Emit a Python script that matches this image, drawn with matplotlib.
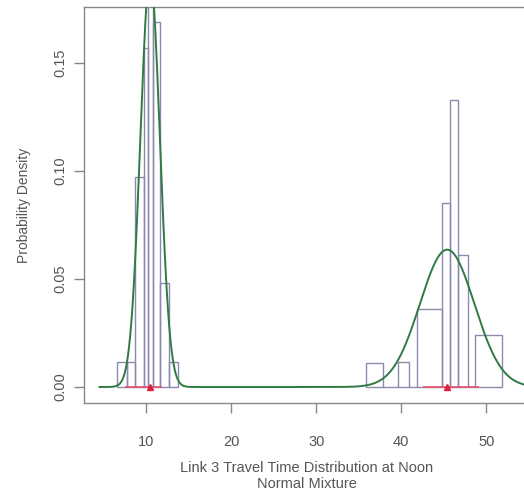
import numpy as np
import matplotlib
matplotlib.use("Agg")
import matplotlib.pyplot as plt

plt.rcParams['font.family'] = ['Liberation Sans', 'DejaVu Sans']

# Histogram (density scale, unequal bins)
left_edges = [6.6, 7.7, 8.7, 9.7, 10.2, 10.8, 11.65, 12.7, 13.7]
left_density = [0.0116, 0.0116, 0.097, 0.157, 0.20, 0.169, 0.048, 0.0116]
right_edges = [35.8, 37.8, 39.6, 40.9, 41.8, 44.8, 45.7, 46.7, 47.8, 48.7, 51.8]
right_density = [0.0113, 0.0, 0.0116, 0.0, 0.036, 0.085, 0.133, 0.061, 0.0, 0.024]

# Fitted normal mixture components
comp_means = [10.45, 45.4]
comp_sds = [1.15, 3.2]
comp_weights = [0.548, 0.51]

# red intervals drawn on the baseline
interval_lo = [7.5, 42.6]
interval_hi = [11.9, 49.2]

x_ticks = [10, 20, 30, 40, 50]
y_ticks = [0.00, 0.05, 0.10, 0.15]

fig = plt.figure(figsize=(5.24, 4.99), dpi=100)
ax = fig.add_axes([84 / 524, 96 / 499, 446 / 524, 396 / 499])

hist_color = '#8a8aae'
for edges, dens in [(left_edges, left_density), (right_edges, right_density)]:
    e = np.array(edges)
    ax.bar(e[:-1], dens, width=np.diff(e), align='edge', fill=False,
           edgecolor=hist_color, linewidth=1.0, zorder=2)

# mixture density curve
xs = np.linspace(4.5, 57, 800)
dens = np.zeros_like(xs)
for m, s, w in zip(comp_means, comp_sds, comp_weights):
    dens += w * np.exp(-0.5 * ((xs - m) / s) ** 2) / (s * np.sqrt(2 * np.pi))

ax.hlines([0, 0], interval_lo, interval_hi, color='#e8506a', linewidth=1.2, zorder=3)
ax.plot(xs, dens, color='#2f7a45', linewidth=1.4, zorder=4)
ax.plot(comp_means, [0, 0], marker='^', linestyle='none', color='#e0203a',
        markersize=5, zorder=5)

ax.set_xlim(2.67, 55.15)
ax.set_ylim(-0.0074, 0.1759)

for sp in ax.spines.values():
    sp.set_color('#888888')
    sp.set_linewidth(1.0)

ax.set_xticks(x_ticks)
ax.set_yticks(y_ticks)
ax.set_yticklabels(['0.00', '0.05', '0.10', '0.15'], rotation=90, va='center')
ax.tick_params(axis='both', colors='#888888', labelcolor='#555555',
               labelsize=10.5, length=7, width=1.0)
ax.tick_params(axis='x', pad=16)
ax.tick_params(axis='y', pad=5)

ax.set_ylabel('Probability Density', fontsize=10, color='#555555', labelpad=16)
ax.set_xlabel('Link 3 Travel Time Distribution at Noon\nNormal Mixture',
              fontsize=10.5, color='#555555', labelpad=9, linespacing=1.15)

fig.savefig('out.png', dpi=100)
